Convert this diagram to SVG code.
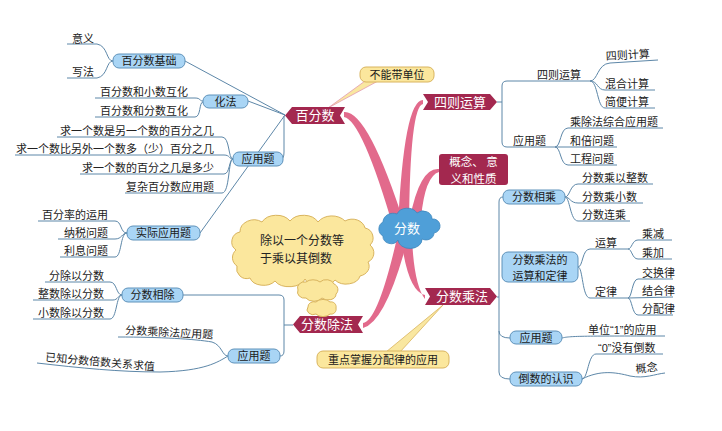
<svg xmlns="http://www.w3.org/2000/svg" width="722" height="431" viewBox="0 0 722 431">
<defs>
<style>
text{font-family:"Noto Sans CJK SC","Noto Sans",sans-serif;}
.leaf{font-size:11px;fill:#222;}
.bn{fill:#a9d5f5;stroke:#5f92ba;stroke-width:1;}
.bt{font-size:11px;fill:#1a1a1a;text-anchor:middle;}
.main{fill:#a3284f;}
.mt{font-size:13px;fill:#fff;text-anchor:middle;}
.br{fill:#e26a8c;}
.ln{fill:none;stroke:#5d87a8;stroke-width:1;}
.call{fill:#fbe79d;stroke:#d9b45e;stroke-width:1;}
.q{font-family:"Liberation Sans","Noto Sans CJK SC",sans-serif;}
</style>
</defs>
<rect width="722" height="431" fill="#fff"/>

<g id="branches">
<path class="br" d="M344,112 Q368,110 405,226 L394,230 Q362,120 344,117 Z"/>
<path class="br" d="M423,100 Q404,100 398,226 L409,226 Q410,106 423,104 Z"/>
<path class="br" d="M439,169 Q420,167 410,218 L421,218 Q425,176 439,172 Z"/>
<path class="br" d="M425,295 Q408,292 401,238 L412,238 Q414,285 425,299 Z"/>
<path class="br" d="M363,323 Q378,321 397,238 L408,238 Q386,322 363,328 Z"/>
</g>

<g id="connectors">
<path class="ln" d="M285,115 L185,61 M285,115 L248,101 M284,116 L284,152 Q284,159 281,159 M285,115 L200,233"/>
<path class="ln" d="M67,44 L97,44 C108,46 106,61 113,61 M67,78 L97,78 C108,76 106,61 113,61"/>
<path class="ln" d="M95,98 L195,98 C201,98 199,101 203,101 M95,117 L195,117 C201,117 199,102 203,102"/>
<path class="ln" d="M57,137 L222,137 C230,137 228,159 233,159 M15,155 L224,155 C230,155 229,159 233,159 M80,174 L224,174 C230,174 229,159 233,159 M125,193 L222,193 C230,193 228,159 233,159"/>
<path class="ln" d="M38,221 L115,221 C122,221 120,233 127,233 M58,239 L115,239 C122,239 122,233 127,233 M60,257 L115,257 C122,257 120,233 127,233"/>
<path class="ln" d="M183,295 L279,295 Q284,295 284,300 L284,351 Q284,356 280,356 M284,325 L293,325"/>
<path class="ln" d="M45,282 L110,282 C117,282 116,295 122,295 M33,300 L113,300 C118,300 118,295 122,295 M33,319 L110,319 C117,319 116,295 122,295"/>
<path class="ln" d="M118,337 C160,337 195,339 212,342 C222,345 222,356 228,356 M37,363 C80,368 120,372 160,372 C205,371 218,362 228,356"/>
<path class="ln" d="M497,102 L502,102 M590,81 L507,81 Q502,81 502,86 L502,142 Q502,147 507,147 L617,147"/>
<path class="ln" d="M590,81 C598,81 597,64 610,63 L658,60 M590,81 C598,81 597,90 605,90 L655,90 M590,81 C598,81 597,108 605,108 L655,108"/>
<path class="ln" d="M555,147 C561,147 560,128 568,128 L663,128 M555,147 C561,147 560,165 568,165 L617,165"/>
<path class="ln" d="M503,197 Q499,197 499,202 L499,372 Q499,379 510,379 M499,331 Q499,338 510,338 M497,297 L499,297"/>
<path class="ln" d="M565,197 C570,197 570,184 578,184 L653,184 M565,197 C570,197 570,203 578,203 L643,203 M565,197 C570,197 570,221 578,221 L630,221"/>
<path class="ln" d="M578,267 C583,267 582,249 590,249 L628,249 M578,267 C583,267 582,298 590,298 L628,298"/>
<path class="ln" d="M628,249 C632,249 632,240 638,240 L672,240 M628,249 C632,249 632,259 638,259 L672,259"/>
<path class="ln" d="M628,298 C632,298 632,279 638,279 L673,279 M628,298 L673,297 M628,298 C632,298 632,315 638,315 L673,315"/>
<path class="ln" d="M562,338 C570,336 580,336 665,336"/>
<path class="ln" d="M582,379 C588,379 588,354 596,354 L663,354 M582,379 C600,370 615,372 630,376 C645,379 655,374 665,373"/>
<path d="M328,108 L365,81 L378,81 Z" fill="#f9e7a0" stroke="#e29ab0" stroke-width="0.8"/>
<path d="M443,305 L386,352 L400,352 Z" fill="#f9e7a0" stroke="#d9b45e" stroke-width="0.8"/>
</g>

<g id="center">
<path d="M383,236 a8,8 0 0 1 0,-14 a10,9 0 0 1 14,-8 a11,9 0 0 1 20,-1 a9,8 0 0 1 15,6 a7,7 0 0 1 2,14 a8,7 0 0 1 -12,6 a12,9 0 0 1 -24,1 a8,7 0 0 1 -15,-4 Z" fill="#4f9fd8" stroke="#3e86bd" stroke-width="0.8"/>
<text x="407" y="233" class="mt">分数</text>
</g>

<g id="n-baifenshu"><polygon class="main" points="292,107 345,107 340,115.5 345,124 292,124 285,115.5"/><text x="315" y="120" class="mt">百分数</text></g>
<g id="n-sizeyunsuan"><polygon class="main" points="423,94 490,94 497,102 490,110 423,110 428,102"/><text x="460" y="106.5" class="mt">四则运算</text></g>
<g id="n-gainian"><rect class="main" x="439" y="154" width="69" height="31" rx="3"/><text class="mt" style="font-size:11.5px"><tspan x="473.5" y="166">概念、 意</tspan><tspan x="473.5" y="182.5">义和性质</tspan></text></g>
<g id="n-chengfa"><polygon class="main" points="425,288 490,288 497,296.5 490,305 425,305 430,296.5"/><text x="462" y="301" class="mt">分数乘法</text></g>
<g id="n-chufa"><polygon class="main" points="300,316 363,316 358,324.5 363,333 300,333 293,324.5"/><text x="327" y="329" class="mt">分数除法</text></g>

<g id="callout1"><rect class="call" x="360" y="67" width="74" height="15" rx="6"/><text x="397" y="78.5" class="bt">不能带单位</text></g>
<g id="callout2"><rect class="call" x="317" y="351" width="132" height="17" rx="6"/><text x="383" y="363.5" class="bt">重点掌握分配律的应用</text></g>
<g id="thought">
<path class="call" d="M240,232 a14,12 0 0 1 22,-10 a16,12 0 0 1 28,-1 a16,12 0 0 1 28,1 a16,12 0 0 1 27,-1 a13,11 0 0 1 20,7 a10,10 0 0 1 5,17 a10,10 0 0 1 -2,17 a12,10 0 0 1 -8,14 a14,10 0 0 1 -25,4 a16,10 0 0 1 -30,-1 a16,10 0 0 1 -30,2 a14,10 0 0 1 -25,-3 a10,10 0 0 1 -13,-12 a10,10 0 0 1 -1,-16 a10,10 0 0 1 4,-18 Z"/>
<text class="leaf" style="font-size:12px"><tspan x="260" y="245">除以一个分数等</tspan><tspan x="260" y="263">于乘以其倒数</tspan></text>
<path class="call" d="M298,290 a7,6 0 0 1 8,-8 a9,6 0 0 1 14,0 a8,6 0 0 1 14,2 a6,6 0 0 1 2,10 a8,6 0 0 1 -14,4 a9,6 0 0 1 -16,0 a7,6 0 0 1 -8,-8 Z"/>
<path class="call" d="M308,307 a6,5 0 0 1 8,-5 a8,5 0 0 1 14,0 a5,5 0 0 1 6,6 a5,5 0 0 1 -6,6 a8,5 0 0 1 -14,0 a6,5 0 0 1 -8,-7 Z"/>
</g>

<g id="n-bfsjc"><rect class="bn" x="113" y="54" width="72" height="14" rx="6"/><text x="149" y="65" class="bt">百分数基础</text></g>
<g id="n-huafa"><rect class="bn" x="203" y="95" width="45" height="13" rx="6"/><text x="225.5" y="105.5" class="bt">化法</text></g>
<g id="n-yyt1"><rect class="bn" x="233" y="152" width="50" height="14" rx="6"/><text x="258" y="163" class="bt">应用题</text></g>
<g id="n-sjyyt"><rect class="bn" x="127" y="226" width="73" height="14" rx="6"/><text x="163.5" y="237" class="bt">实际应用题</text></g>
<g id="n-fsxc"><rect class="bn" x="122" y="288" width="61" height="14" rx="6"/><text x="152.5" y="299" class="bt">分数相除</text></g>
<g id="n-yyt2"><rect class="bn" x="228" y="349" width="52" height="14" rx="6"/><text x="254" y="360" class="bt">应用题</text></g>
<g id="n-fsxch"><rect class="bn" x="503" y="190" width="62" height="14" rx="6"/><text x="534" y="201" class="bt">分数相乘</text></g>
<g id="n-ysdl"><rect class="bn" x="502" y="252" width="76" height="30" rx="6"/><text class="bt"><tspan x="540" y="264">分数乘法的</tspan><tspan x="540" y="280">运算和定律</tspan></text></g>
<g id="n-yyt3"><rect class="bn" x="510" y="331" width="52" height="13" rx="6"/><text x="536" y="341.5" class="bt">应用题</text></g>
<g id="n-dsdrs"><rect class="bn" x="510" y="372" width="72" height="14" rx="6"/><text x="546" y="383" class="bt">倒数的认识</text></g>

<g id="leaves-left" class="leaf">
<text x="94" y="43" text-anchor="end">意义</text>
<text x="94" y="76" text-anchor="end">写法</text>
<text x="100" y="96">百分数和小数互化</text>
<text x="100" y="115">百分数和分数互化</text>
<text x="214" y="135" text-anchor="end">求一个数是另一个数的百分之几</text>
<text x="214" y="153" text-anchor="end">求一个数比另外一个数多（少）百分之几</text>
<text x="214" y="172" text-anchor="end">求一个数的百分之几是多少</text>
<text x="214" y="191" text-anchor="end">复杂百分数应用题</text>
<text x="108" y="219" text-anchor="end">百分率的运用</text>
<text x="108" y="237" text-anchor="end">纳税问题</text>
<text x="108" y="255" text-anchor="end">利息问题</text>
<text x="104" y="280" text-anchor="end">分除以分数</text>
<text x="104" y="298" text-anchor="end">整数除以分数</text>
<text x="104" y="317" text-anchor="end">小数除以分数</text>
<text x="125" y="334" transform="rotate(3 125 334)">分数乘除法应用题</text>
<text x="45" y="361" transform="rotate(5 45 361)">已知分数倍数关系求值</text>
</g>
<g id="leaves-right" class="leaf">
<text x="537" y="79">四则运算</text>
<text x="606" y="60" transform="rotate(-3 606 60)">四则计算</text>
<text x="605" y="88">混合计算</text>
<text x="605" y="106">简便计算</text>
<text x="513" y="145">应用题</text>
<text x="570" y="126">乘除法综合应用题</text>
<text x="570" y="145">和倍问题</text>
<text x="570" y="163">工程问题</text>
<text x="582" y="182">分数乘以整数</text>
<text x="582" y="201">分数乘小数</text>
<text x="582" y="219">分数连乘</text>
<text x="595" y="247">运算</text>
<text x="642" y="238">乘减</text>
<text x="642" y="257">乘加</text>
<text x="595" y="296">定律</text>
<text x="642" y="277">交换律</text>
<text x="642" y="295">结合律</text>
<text x="642" y="313">分配律</text>
<text x="588" y="334" class="q">单位“1”的应用</text>
<text x="598" y="352" class="q">“0”没有倒数</text>
<text x="636" y="373" transform="rotate(-6 636 373)">概念</text>
</g>
</svg>
